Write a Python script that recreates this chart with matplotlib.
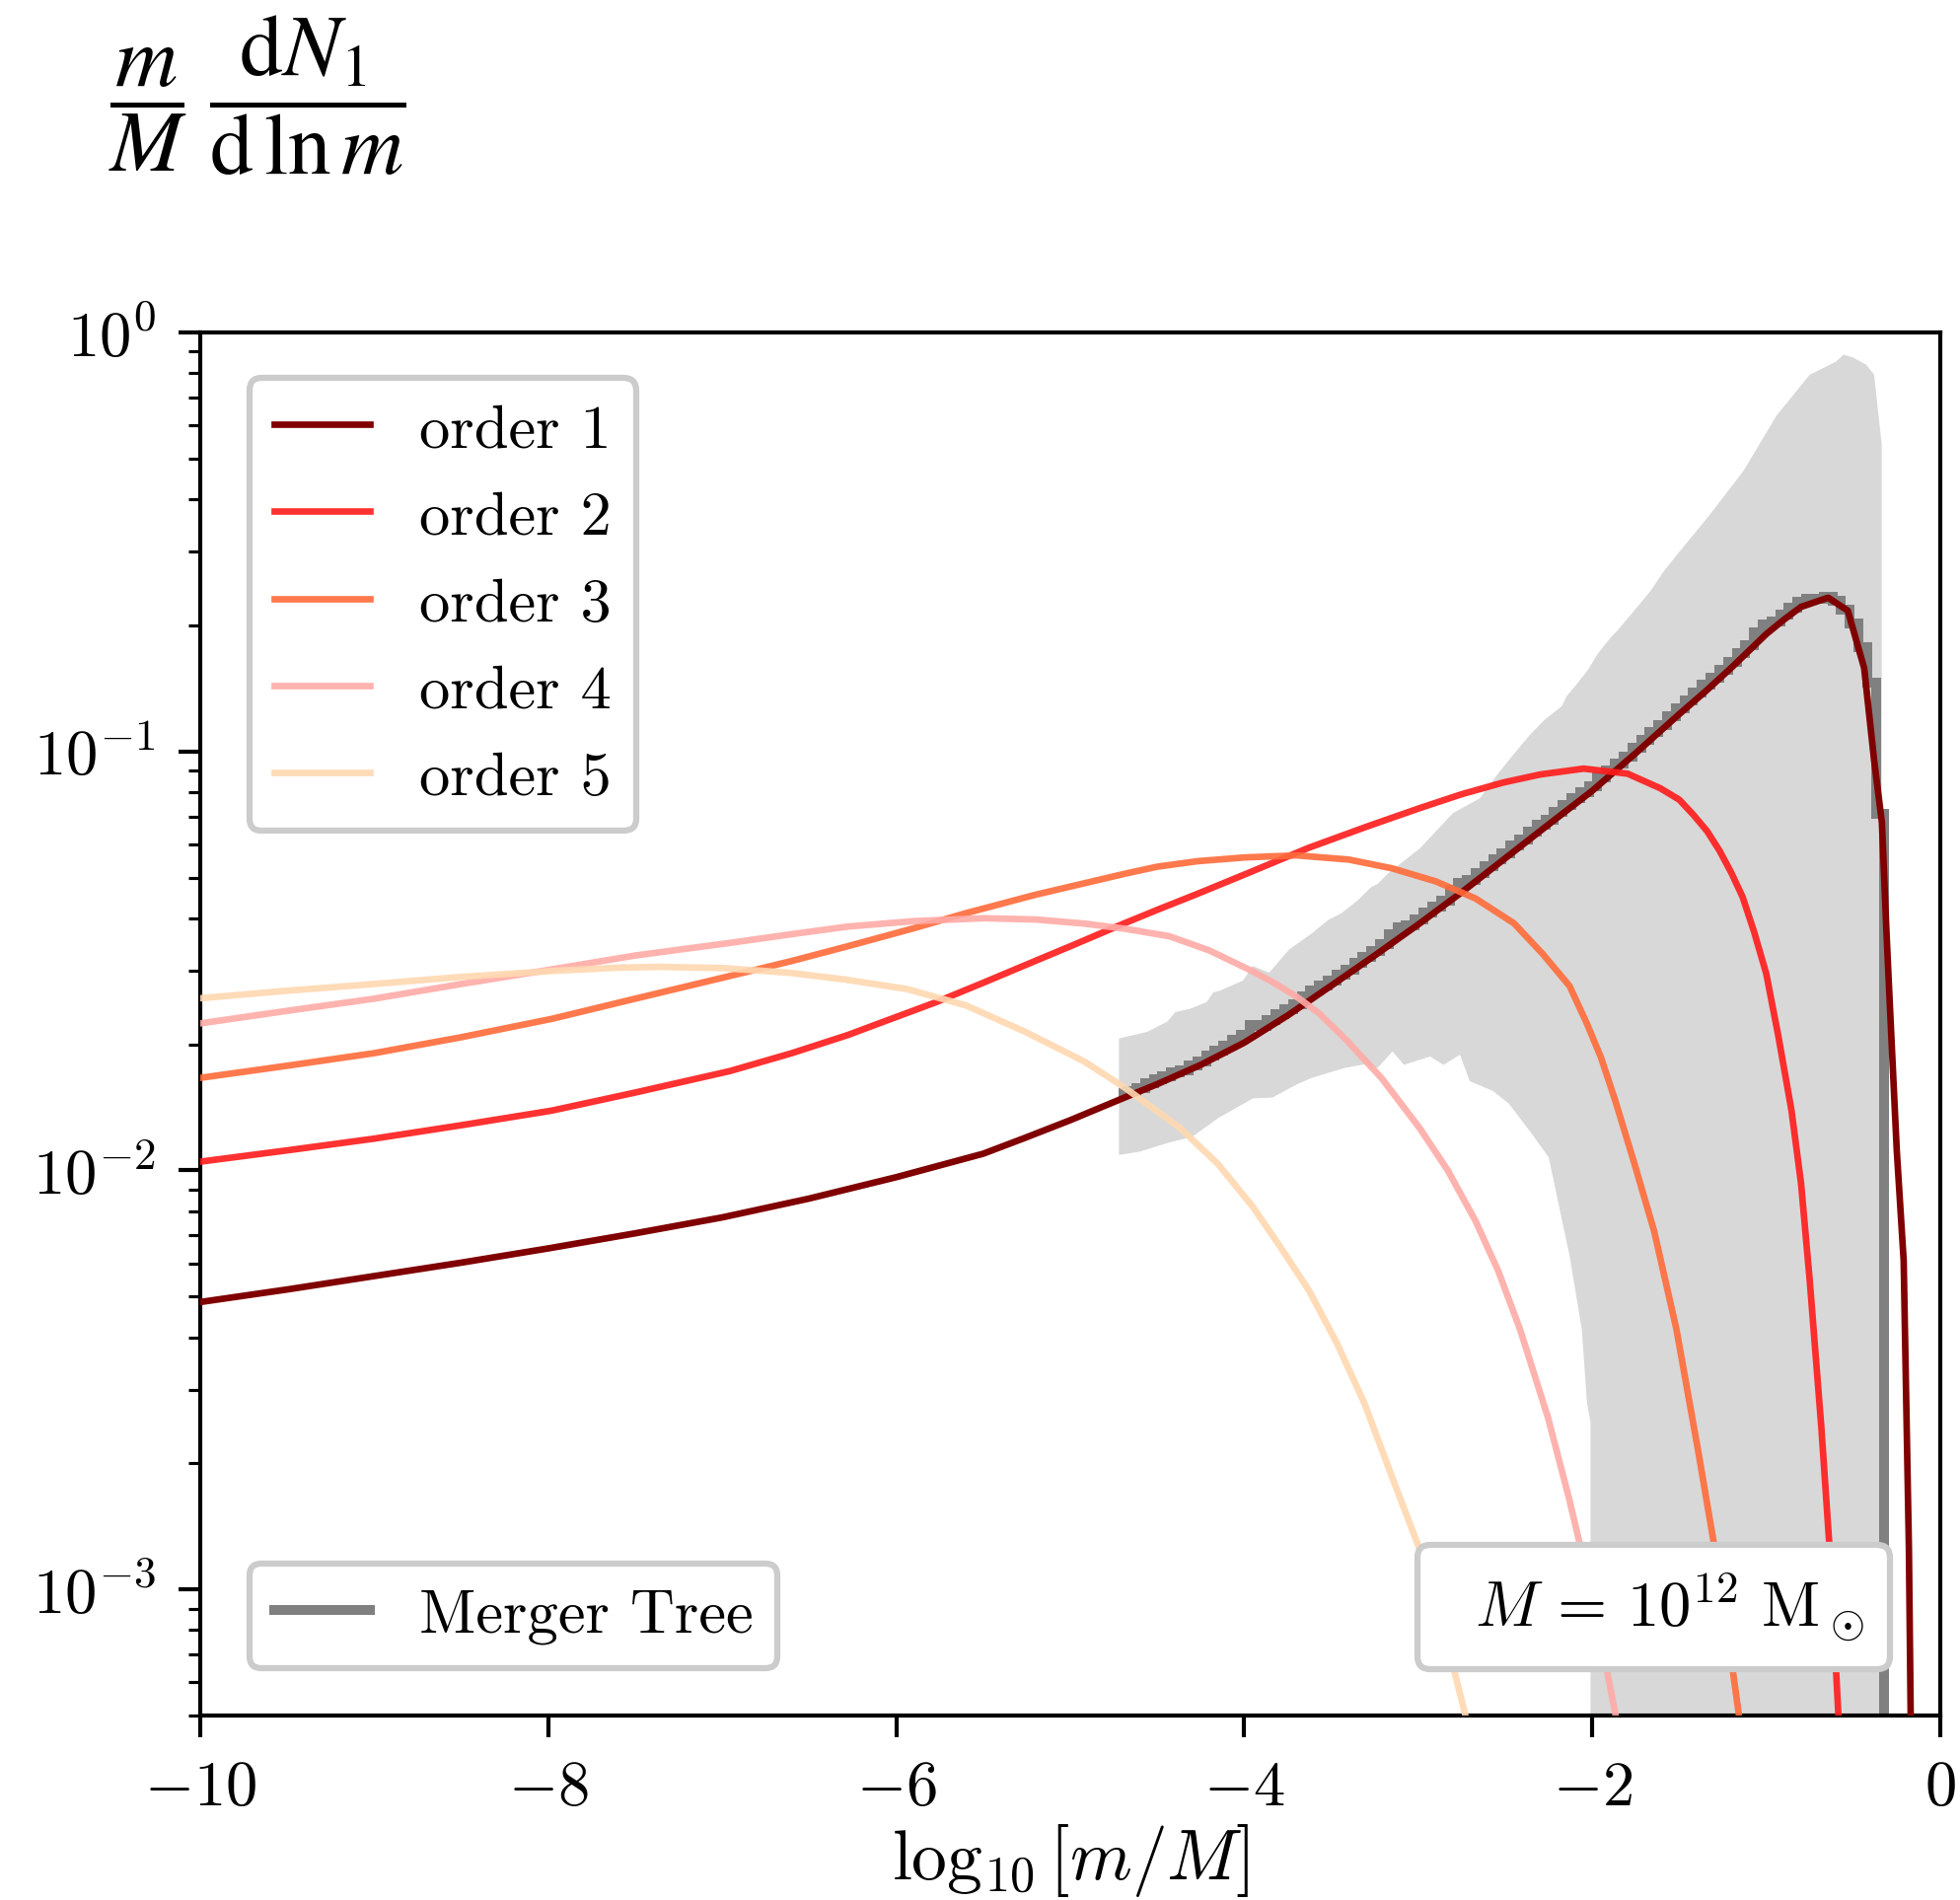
import numpy as np
import matplotlib
matplotlib.use("Agg")
import matplotlib.pyplot as plt
from matplotlib.lines import Line2D

# ---------------------------------------------------------------------------
# Data: log10 of (m/M) dN_1/dln m for the progenitor-order expansion
# ---------------------------------------------------------------------------
order1_x = [-10, -9.5, -9, -8.5, -8, -7.5, -7, -6.5, -6, -5.5, -5.259, -5,
            -4.688, -4.5, -4.25, -4, -3.75, -3.5, -3.25, -3, -2.75, -2.5,
            -2.25, -2, -1.75, -1.5, -1.35, -1.2, -1.0, -0.9, -0.8, -0.644,
            -0.531, -0.437, -0.38, -0.335, -0.31, -0.29, -0.25, -0.21, -0.18,
            -0.17, -0.16]
order1_log = [-2.314, -2.284, -2.252, -2.220, -2.186, -2.150, -2.112, -2.067,
              -2.016, -1.960, -1.922, -1.880, -1.826, -1.794, -1.748, -1.695,
              -1.630, -1.559, -1.487, -1.413, -1.336, -1.255, -1.174, -1.094,
              -1.004, -0.911, -0.857, -0.800, -0.720, -0.686, -0.655, -0.633,
              -0.664, -0.801, -1.020, -1.170, -1.420, -1.600, -1.950, -2.215,
              -2.900, -3.290, -3.600]

order2_x = [-10, -9.5, -9, -8.5, -7.978, -7.5, -6.958, -6.6, -6.28, -5.769,
            -5.5, -5.259, -5.0, -4.688, -4.5, -4.27, -4.0, -3.63, -3.3, -2.99,
            -2.75, -2.51, -2.3, -2.05, -1.797, -1.608, -1.5, -1.419, -1.34,
            -1.268, -1.2, -1.136, -1.07, -1.0, -0.93, -0.855, -0.80, -0.75,
            -0.683, -0.635, -0.586, -0.55]
order2_log = [-1.979, -1.952, -1.924, -1.892, -1.857, -1.814, -1.763, -1.720,
              -1.677, -1.598, -1.552, -1.510, -1.465, -1.410, -1.378, -1.340,
              -1.294, -1.230, -1.180, -1.135, -1.102, -1.074, -1.055, -1.041,
              -1.053, -1.088, -1.115, -1.151, -1.190, -1.237, -1.290, -1.347,
              -1.430, -1.530, -1.680, -1.856, -2.030, -2.262, -2.614, -2.906,
              -3.293, -3.600]

order3_x = [-10, -9.5, -9, -8.5, -7.978, -7.5, -6.958, -6.6, -6.28, -5.9,
            -5.6, -5.2, -4.688, -4.5, -4.27, -4.0, -3.70, -3.4, -3.15, -2.9,
            -2.67, -2.45, -2.285, -2.13, -2.03, -1.95, -1.87, -1.76, -1.644,
            -1.516, -1.39, -1.26, -1.16, -1.1]
order3_log = [-1.779, -1.750, -1.720, -1.682, -1.638, -1.590, -1.536, -1.500,
              -1.465, -1.422, -1.386, -1.342, -1.292, -1.275, -1.262, -1.253,
              -1.248, -1.258, -1.279, -1.310, -1.351, -1.410, -1.483, -1.560,
              -1.650, -1.730, -1.830, -1.980, -2.145, -2.379, -2.672, -2.990,
              -3.290, -3.500]

order4_x = [-10, -9.5, -9, -8.5, -7.978, -7.5, -6.958, -6.6, -6.28, -5.9,
            -5.497, -5.2, -4.915, -4.688, -4.43, -4.2, -3.95, -3.83, -3.7,
            -3.57, -3.41, -3.21, -2.99, -2.83, -2.67, -2.54, -2.415, -2.254,
            -2.13, -2.03, -1.95, -1.87, -1.8]
order4_log = [-1.649, -1.619, -1.590, -1.555, -1.520, -1.487, -1.457, -1.436,
              -1.418, -1.405, -1.398, -1.401, -1.411, -1.423, -1.441, -1.475,
              -1.525, -1.552, -1.585, -1.625, -1.690, -1.780, -1.900, -2.000,
              -2.121, -2.240, -2.379, -2.590, -2.788, -2.965, -3.120, -3.290,
              -3.450]

order5_x = [-10, -9.5, -9, -8.5, -7.978, -7.6, -7.366, -7.0, -6.618, -6.3,
            -5.939, -5.6, -5.259, -4.919, -4.688, -4.37, -4.15, -3.95, -3.8,
            -3.63, -3.47, -3.31, -3.12, -2.99, -2.86, -2.735, -2.65]
order5_log = [-1.589, -1.571, -1.555, -1.538, -1.524, -1.516, -1.514, -1.517,
              -1.528, -1.544, -1.567, -1.606, -1.669, -1.740, -1.802, -1.898,
              -1.985, -2.087, -2.178, -2.285, -2.410, -2.555, -2.765, -2.906,
              -3.083, -3.290, -3.450]

# Merger-tree median (log10), 0.05 dex bins from -4.72 to -0.32
tree_edges = np.linspace(-4.72, -0.32, 89)
tree_log = [
    -1.815, -1.810, -1.803, -1.792, -1.783, -1.776, -1.766, -1.760, -1.749,
    -1.739, -1.725, -1.713, -1.703, -1.689, -1.677, -1.652, -1.654, -1.640,
    -1.628, -1.615, -1.603, -1.584, -1.570, -1.559, -1.546, -1.532, -1.520,
    -1.505, -1.490, -1.477, -1.460, -1.435, -1.420, -1.415, -1.400, -1.385,
    -1.370, -1.355, -1.330, -1.313, -1.307, -1.290, -1.274, -1.258, -1.243,
    -1.225, -1.209, -1.192, -1.176, -1.162, -1.144, -1.128, -1.112, -1.096,
    -1.082, -1.063, -1.046, -1.029, -1.012, -0.991, -0.972, -0.954, -0.937,
    -0.916, -0.897, -0.879, -0.860, -0.841, -0.825, -0.805, -0.786, -0.766,
    -0.746, -0.716, -0.696, -0.690, -0.674, -0.658, -0.642, -0.635, -0.635,
    -0.631, -0.640, -0.662, -0.695, -0.750, -0.835, -1.150]

# Merger-tree scatter envelope (log10)
band_upper_x = [-4.72, -4.556, -4.443, -4.395, -4.31, -4.216, -4.178, -4.14,
                -4.008, -3.951, -3.857, -3.743, -3.611, -3.517, -3.441, -3.347,
                -3.271, -3.233, -3.176, -2.99, -2.80, -2.647, -2.534, -2.458,
                -2.364, -2.27, -2.175, -2.147, -2.10, -2.024, -1.967, -1.892,
                -1.854, -1.759, -1.665, -1.589, -1.52, -1.33, -1.13, -0.94,
                -0.75, -0.60, -0.556, -0.50, -0.425, -0.38, -0.336]
band_upper_log = [-1.685, -1.669, -1.645, -1.622, -1.614, -1.598, -1.575,
                  -1.571, -1.547, -1.512, -1.528, -1.473, -1.434, -1.402,
                  -1.386, -1.355, -1.324, -1.316, -1.292, -1.231, -1.147,
                  -1.112, -1.049, -1.010, -0.963, -0.923, -0.892, -0.868,
                  -0.845, -0.805, -0.766, -0.727, -0.711, -0.664, -0.617,
                  -0.570, -0.534, -0.438, -0.330, -0.198, -0.101, -0.070,
                  -0.053, -0.060, -0.077, -0.101, -0.268]
band_lower_x = [-4.72, -4.60, -4.43, -4.30, -4.15, -3.95, -3.838, -3.70,
                -3.611, -3.54, -3.42, -3.31, -3.233, -3.148, -3.082, -2.931,
                -2.855, -2.76, -2.704, -2.572, -2.48, -2.35, -2.25, -2.19,
                -2.13, -2.06, -2.03, -2.01, -2.01, -0.336]
band_lower_log = [-1.963, -1.955, -1.933, -1.920, -1.875, -1.828, -1.826,
                  -1.795, -1.779, -1.770, -1.755, -1.747, -1.755, -1.716,
                  -1.748, -1.728, -1.748, -1.724, -1.787, -1.810, -1.840,
                  -1.911, -1.969, -2.087, -2.204, -2.379, -2.555, -2.600,
                  -5.000, -5.000]

order_labels = ["order 1", "order 2", "order 3", "order 4", "order 5"]
order_colors = ["#800000", "#ff1a1a", "#ff6b39", "#ffaba7", "#ffd8b1"]
order_alpha = [1.0, 0.9, 0.9, 0.9, 0.9]

# ---------------------------------------------------------------------------
plt.rcParams.update({
    "font.family": "serif",
    "font.serif": ["cmr10"],
    "mathtext.fontset": "cm",
    "axes.formatter.use_mathtext": True,
    "font.size": 15.5,
    "legend.fontsize": 15.0,
    "axes.linewidth": 1.0,
    "xtick.major.size": 5.3, "xtick.major.width": 1.0,
    "ytick.major.size": 5.3, "ytick.major.width": 1.0,
    "ytick.minor.size": 2.9, "ytick.minor.width": 0.75,
    "xtick.major.pad": 5.5, "ytick.major.pad": 5.5,
})

fig = plt.figure(figsize=(1987 / 300, 1927 / 300), dpi=300)
ax = fig.add_axes([0.1022, 0.0970, 0.8877, 0.7276])

LW = 1.6
TREE_LW = 2.4

# scatter envelope
poly_x = list(band_upper_x) + list(band_lower_x[::-1])
poly_y = [10 ** v for v in band_upper_log] + [10 ** v for v in band_lower_log[::-1]]
ax.fill(poly_x, poly_y, color="gray", alpha=0.3, lw=0, zorder=1)

# merger-tree median; trailing empty bin draws the drop at the upper mass end
ax.stairs(list(10 ** np.array(tree_log)) + [1e-9],
          list(tree_edges) + [-0.27], baseline=None,
          color="gray", lw=TREE_LW, zorder=2)

series = [(order1_x, order1_log), (order2_x, order2_log), (order3_x, order3_log),
          (order4_x, order4_log), (order5_x, order5_log)]
handles = []
for (xs, ls), lab, col, al in zip(series, order_labels, order_colors, order_alpha):
    h, = ax.plot(xs, 10 ** np.array(ls), color=col, alpha=al, lw=LW,
                 label=lab, zorder=3)
    handles.append(h)

ax.set_yscale("log")
ax.set_xlim(-10, 0)
ax.set_ylim(5e-4, 1)
ax.set_xticks([-10, -8, -6, -4, -2, 0])
ax.tick_params(axis="x", which="minor", bottom=False)

ax.set_xlabel(r"$\log_{10}\left[m/M\right]$", fontsize=17.2, labelpad=1)
fig.text(0.131, 0.950,
         r"$\dfrac{m}{M}\;\dfrac{\mathrm{d}N_1}{\mathrm{d}\,\ln m}$",
         math_fontfamily="stix", fontsize=21, ha="center", va="center")

frame_kw = dict(fancybox=True, framealpha=1, edgecolor="#cccccc")
leg1 = ax.legend(handles=handles, loc="upper left",
                 bbox_to_anchor=(0.0283, 0.967), borderaxespad=0,
                 handlelength=1.55, handletextpad=0.8, labelspacing=0.52,
                 **frame_kw)
leg1.get_frame().set_linewidth(1.5)
ax.add_artist(leg1)

tree_handle = Line2D([], [], color="gray", lw=TREE_LW)
leg2 = ax.legend(handles=[tree_handle], labels=["Merger Tree"],
                 loc="lower left", bbox_to_anchor=(0.0283, 0.0342),
                 borderaxespad=0, handlelength=1.55, handletextpad=0.8,
                 **frame_kw)
leg2.get_frame().set_linewidth(1.5)
ax.add_artist(leg2)

blank = Line2D([], [], color="none")
leg3 = ax.legend(handles=[blank],
                 labels=[r"$M\,=\,10^{12}\ \mathrm{M}_\odot$"],
                 loc="lower right", bbox_to_anchor=(0.971, 0.0335),
                 borderaxespad=0, handlelength=0, handletextpad=0.5,
                 fontsize=15.5, **frame_kw)
leg3.get_frame().set_linewidth(1.5)

fig.savefig("out.png", dpi=300)
